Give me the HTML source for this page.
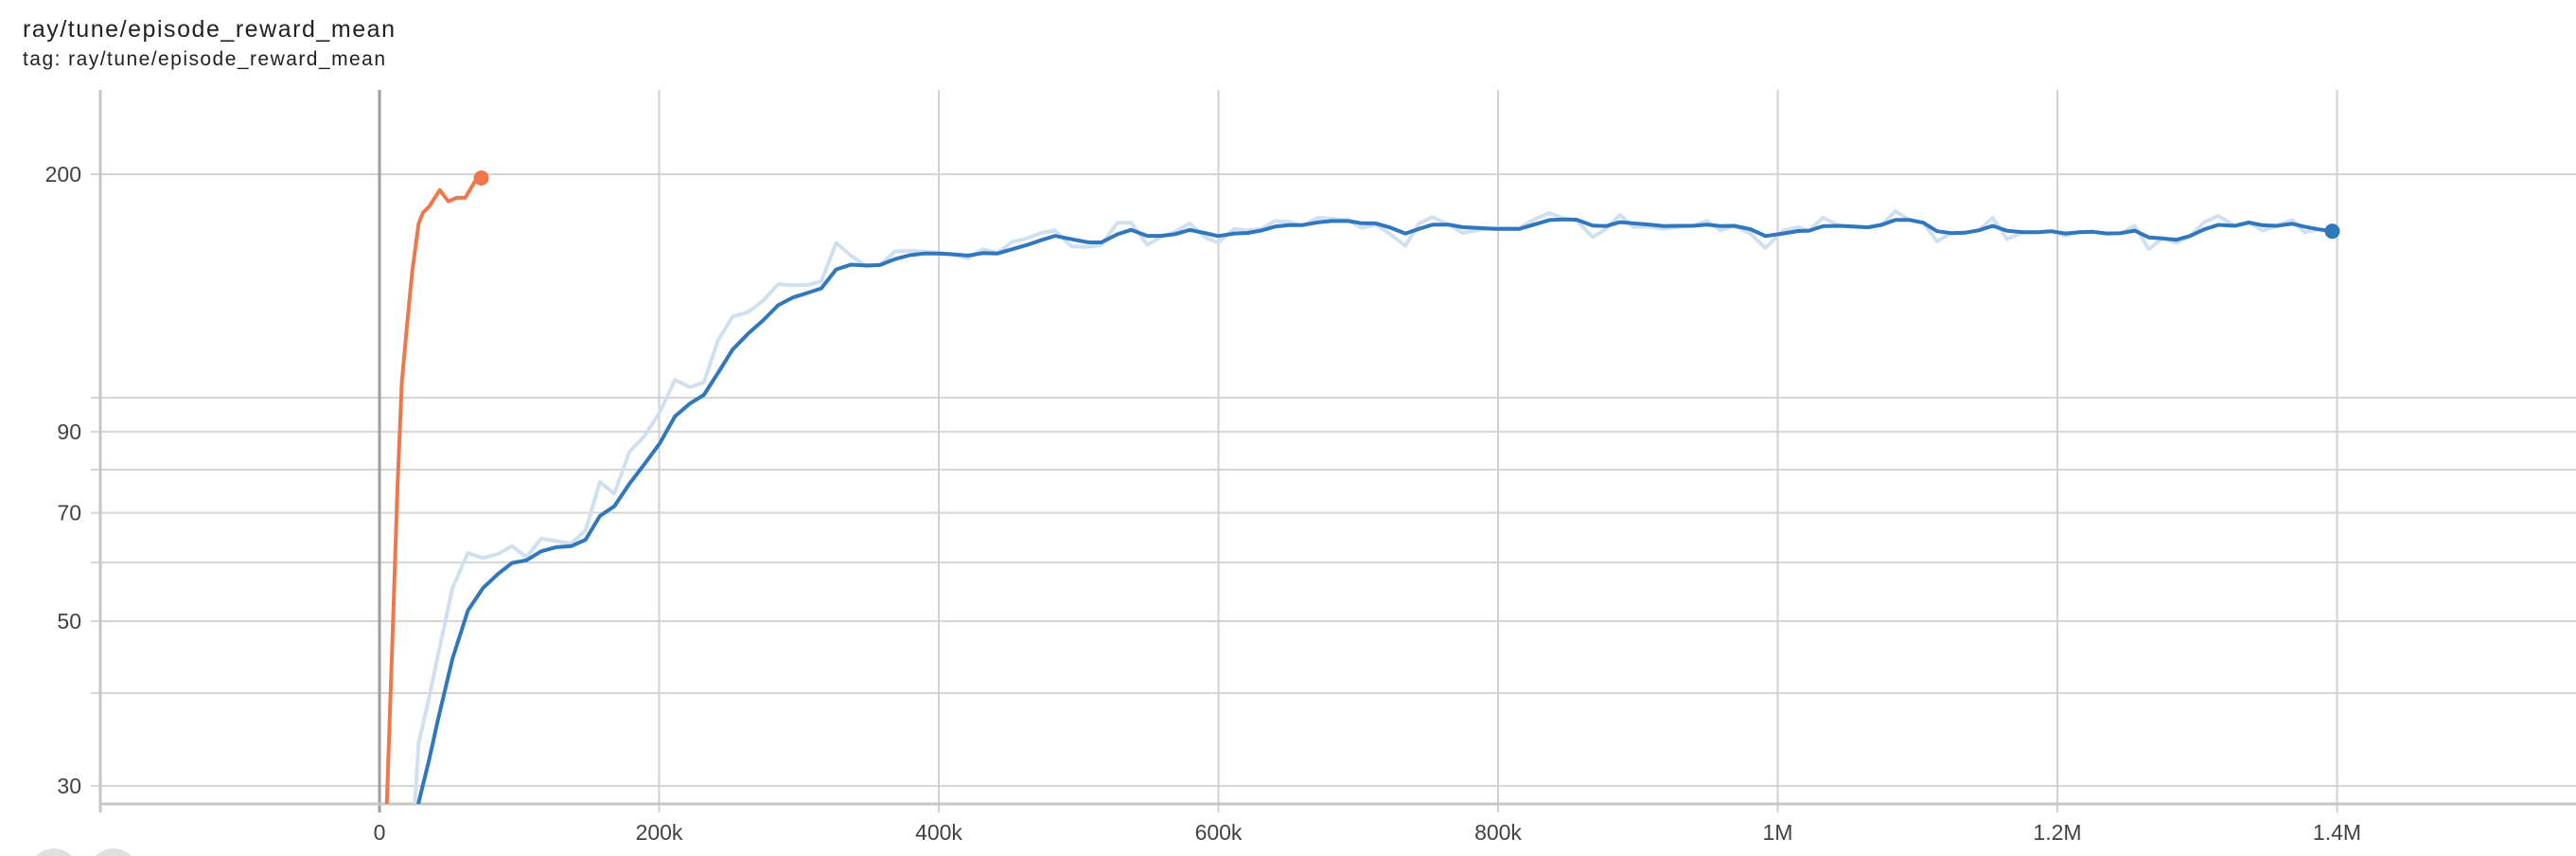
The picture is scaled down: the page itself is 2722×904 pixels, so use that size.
<!DOCTYPE html>
<html><head><meta charset="utf-8"><style>
html,body{margin:0;padding:0;background:#fff;width:2722px;height:904px;overflow:hidden;font-family:"Liberation Sans",sans-serif;}
svg{display:block}
</style></head><body>
<svg id="chart" width="2722" height="904" xmlns="http://www.w3.org/2000/svg">
<text x="24" y="39" font-size="25" fill="#212121" font-family="Liberation Sans, sans-serif" textLength="393">ray/tune/episode_reward_mean</text>
<text x="24" y="69" font-size="21" fill="#212121" font-family="Liberation Sans, sans-serif" textLength="383">tag: ray/tune/episode_reward_mean</text>
<g id="grid"></g><g id="axes"></g><g id="series" clip-path="url(#plotclip)"></g><g id="marks"></g>
<defs><clipPath id="plotclip"><rect x="106" y="95" width="2616" height="754"/></clipPath></defs>
<circle cx="57" cy="922" r="26" fill="#e0e0e0"/>
<circle cx="120" cy="922" r="26" fill="#e0e0e0"/>
</svg>
<script>
const xTicks=[0,200000,400000,600000,800000,1000000,1200000,1400000];
const xTickLabels=["0","200k","400k","600k","800k","1M","1.2M","1.4M"];
const yGrid=[30,40,50,60,70,80,90,100,200];
const yTickVals=[30,50,70,90,200];
const yTickLabels=["30","50","70","90","200"];
const orangeSteps=[3,5.3,9.9,12.9,16.0,19.9,23.5,28.0,31.1,35.6,43.1,49.2,55.2,61.3,68.2,72.8];
const orangeVals=[20,28.5,51.2,76.3,104.9,126.4,148.3,171.7,177.5,181.0,190.4,183.9,185.9,185.9,195.5,197.7];
const blueSteps=[24,28.0,35.6,41.6,52.2,63.3,74.0,84.8,94.8,105.1,115.7,126.2,137.1,147.4,157.6,167.9,178.8,189.7,200.5,211.4,222.0,232.0,242.2,252.5,263.7,274.3,285.1,295.4,306.0,316.0,326.6,337.1,348.0,358.0,368.5,379.2,389.7,400.3,410.2,420.9,431.4,442.0,452.5,463.1,473.1,483.1,494.8,507.2,516.2,527.8,537.5,549.2,558.8,568.6,579.5,590.0,599.7,611.3,621.0,630.7,640.5,650.2,659.9,671.5,681.3,692.9,702.6,712.4,722.1,733.7,743.5,753.1,764.8,774.5,786.2,797.8,815.3,826.9,836.7,846.4,856.1,867.7,877.4,887.2,896.9,908.5,918.3,929.9,939.6,949.3,959.1,968.8,980.4,991.3,1003.7,1014.6,1022.4,1032.4,1044.4,1054.3,1064.3,1074.2,1084.2,1094.1,1104.1,1114.0,1124.0,1133.9,1143.9,1153.8,1163.8,1175.7,1185.7,1195.6,1205.6,1215.5,1225.5,1235.4,1245.4,1255.3,1265.3,1275.2,1285.2,1295.1,1305.1,1315.0,1327.0,1336.9,1346.9,1356.8,1368.0,1376.7,1386.7,1396.6];
const blueSmooth=[25,28.5,32.6,36.7,44.5,51.7,55.4,57.9,59.9,60.4,62.1,62.9,63.1,64.4,69.3,71.4,76.6,81.5,86.8,94.4,98.2,100.9,108.1,116.1,122.0,127.1,133.2,136.4,138.4,140.4,148.9,151.1,150.7,150.9,153.7,155.6,156.4,156.4,156.0,155.4,156.6,156.4,158.5,160.6,163.0,165.2,163.5,161.9,161.9,166.0,168.3,165.2,165.2,166.0,168.3,166.7,165.1,166.4,166.7,168.0,170.0,170.8,170.8,172.3,173.0,173.0,171.8,171.7,169.7,166.4,168.8,171.0,171.0,169.7,169.3,168.8,168.8,171.3,173.5,173.8,173.7,170.5,170.3,172.4,171.7,171.0,170.3,170.4,170.4,171.0,170.3,170.4,168.7,165.1,166.4,167.7,167.9,170.2,170.4,170.0,169.6,170.9,173.6,173.6,172.1,167.6,166.6,166.8,168.1,170.4,167.9,167.1,167.1,167.6,166.4,167.1,167.3,166.4,166.6,167.9,164.4,163.9,163.2,165.2,168.6,170.9,170.4,172.2,170.7,170.4,171.5,170.0,168.6,167.6];
const blueRaw=[26,34.3,39.5,44.8,55.4,61.8,60.8,61.6,63.1,61.0,64.6,64.1,63.6,66.3,77.0,74.3,84.6,88.9,95.6,105.7,103.3,104.9,119.6,128.6,130.4,135.1,142.2,141.8,141.8,143.4,161.7,155.4,150.3,150.9,157.4,157.7,157.4,156.8,156.0,154.0,158.5,156.8,162.1,163.9,166.7,168.0,159.9,159.6,160.6,172.1,172.1,160.6,164.6,167.1,171.7,164.6,161.9,168.8,168.0,168.8,173.0,172.6,170.5,174.8,174.2,173.3,169.3,171.0,166.4,160.2,171.7,175.1,171.0,166.7,168.3,169.3,169.3,174.2,177.3,174.5,173.3,164.6,168.8,176.4,169.7,169.9,168.8,169.9,170.5,173.0,168.0,170.5,166.4,159.1,168.0,169.7,167.9,174.8,170.4,170.0,169.6,170.9,178.3,173.6,172.1,162.4,166.6,166.8,168.1,174.8,163.6,167.1,167.1,167.6,165.3,167.1,167.3,166.4,166.6,170.4,158.6,163.9,161.7,165.2,172.4,175.7,170.4,172.4,167.9,170.4,173.6,167.1,168.6,167.6];

const NS="http://www.w3.org/2000/svg";
const X0=401, PXK=295.5/200000;
function xs(step){return X0+step*PXK;}
function ys(v){return 184+(Math.log(200)-Math.log(v))*340.5;}
function mk(tag,attrs,parent){const e=document.createElementNS(NS,tag);for(const k in attrs)e.setAttribute(k,attrs[k]);parent.appendChild(e);return e;}
const grid=document.getElementById('grid'),axes=document.getElementById('axes'),series=document.getElementById('series'),marks=document.getElementById('marks');
const L=106,R=2722,T=95,B=849;
yGrid.forEach(v=>{const y=ys(v);const l=mk('line',{x1:96,x2:R,y1:y,y2:y,stroke:'#d6d6d6','stroke-width':2},grid);

});
yTickVals.forEach((v,i)=>{const t=mk('text',{x:86,y:ys(v)+8,'text-anchor':'end','font-size':23,fill:'#424242'},axes);t.textContent=yTickLabels[i];

});
xTicks.forEach((s,i)=>{const x=xs(s);const l=mk('line',{x1:x,x2:x,y1:T,y2:858,stroke:s===0?'#9e9e9e':'#d0d0d0','stroke-width':s===0?3:2},grid);


const t=mk('text',{x:x,y:887,'text-anchor':'middle','font-size':23,fill:'#424242'},axes);t.textContent=xTickLabels[i];

});
const ya=mk('line',{x1:L,x2:L,y1:T,y2:858,stroke:'#c6c6c6','stroke-width':3},axes);


const xa=mk('line',{x1:L,x2:R,y1:B,y2:B,stroke:'#c6c6c6','stroke-width':3},axes);


function path(steps,vals){return steps.map((s,i)=>(i?'L':'M')+xs(s*1000).toFixed(1)+' '+ys(vals[i]).toFixed(1)).join(' ');}
const p1=mk('path',{d:path(blueSteps,blueRaw),fill:'none',stroke:'#cfe0f1','stroke-width':4,'stroke-linejoin':'round'},series);


const p2=mk('path',{d:path(blueSteps,blueSmooth),fill:'none',stroke:'#3077bd','stroke-width':4,'stroke-linejoin':'round'},series);


const p3=mk('path',{d:path(orangeSteps,orangeVals),fill:'none',stroke:'#f0774a','stroke-width':4,'stroke-linejoin':'round'},series);


const bl=blueSteps.length-1,ol=orangeSteps.length-1;
const c1=mk('circle',{cx:xs(blueSteps[bl]*1000),cy:ys(blueSmooth[bl]),r:8,fill:'#3077bd'},marks);


const c2=mk('circle',{cx:xs(orangeSteps[ol]*1000),cy:ys(orangeVals[ol]),r:8,fill:'#f0774a'},marks);


</script>
</body></html>
